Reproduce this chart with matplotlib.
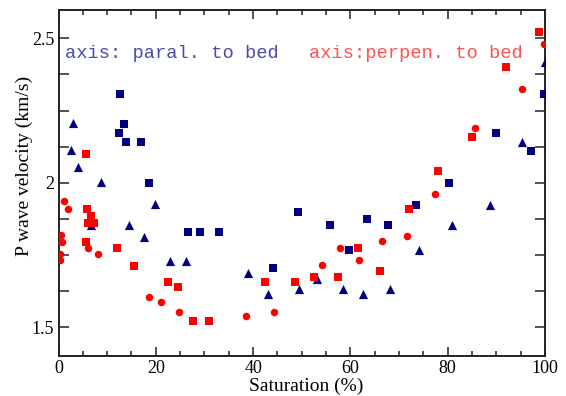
import matplotlib
matplotlib.use("Agg")
import matplotlib.pyplot as plt
from matplotlib.ticker import MultipleLocator

# Data (saturation %, P wave velocity km/s)
par_sq_x = [12.6, 13.4, 12.4, 13.9, 17.0, 18.7, 26.7, 29.1, 32.9, 44.1, 49.2, 55.9,
            59.8, 63.5, 67.8, 73.4, 80.3, 89.9, 97.2, 99.7]
par_sq_y = [2.306, 2.204, 2.172, 2.141, 2.141, 2.000, 1.830, 1.830, 1.830, 1.705, 1.898, 1.852,
            1.766, 1.875, 1.852, 1.923, 1.999, 2.172, 2.111, 2.306]

par_tri_x = [2.6, 2.9, 4.1, 6.7, 8.7, 14.5, 17.6, 19.8, 22.9, 26.3, 39.0, 43.1,
             49.4, 53.1, 58.5, 62.5, 68.1, 74.2, 80.9, 88.6, 95.3, 99.9]
par_tri_y = [2.114, 2.206, 2.056, 1.854, 2.001, 1.854, 1.811, 1.927, 1.728, 1.728, 1.687, 1.615,
             1.632, 1.668, 1.632, 1.615, 1.633, 1.768, 1.853, 1.924, 2.142, 2.417]

per_sq_x = [5.6, 5.8, 6.6, 6.0, 7.3, 5.65, 12.0, 15.5, 22.6, 24.6, 27.7, 30.9,
            42.4, 48.6, 52.6, 57.5, 61.5, 66.1, 72.0, 78.0, 84.9, 91.9, 98.8]
per_sq_y = [2.098, 1.910, 1.886, 1.862, 1.862, 1.796, 1.775, 1.713, 1.658, 1.638, 1.522, 1.522,
            1.656, 1.656, 1.675, 1.675, 1.773, 1.694, 1.909, 2.039, 2.159, 2.401, 2.522]

per_ci_x = [1.1, 2.0, 0.45, 0.65, 0.4, 0.25, 6.1, 8.1, 18.5, 21.1, 24.8, 38.6,
            44.3, 54.1, 57.8, 61.7, 66.4, 71.7, 77.4, 85.7, 95.3, 99.7]
per_ci_y = [1.936, 1.909, 1.818, 1.796, 1.754, 1.734, 1.773, 1.754, 1.603, 1.586, 1.553, 1.538,
            1.554, 1.714, 1.773, 1.733, 1.797, 1.817, 1.961, 2.190, 2.325, 2.480]

blue = "#000080"
red = "#ff0000"

plt.rcParams["font.family"] = ["Liberation Serif", "DejaVu Serif"]

fig = plt.figure(figsize=(5.66, 3.96), dpi=100)
ax = fig.add_axes([58.5 / 566, 1 - 356 / 396, 486.5 / 566, 346.5 / 396])

ax.scatter(par_sq_x, par_sq_y, marker="s", s=5.8**2, color=blue, linewidths=0, zorder=3)
ax.scatter(par_tri_x, par_tri_y, marker="^", s=6.6**2, color=blue, linewidths=0, zorder=3)
ax.scatter(per_sq_x, per_sq_y, marker="s", s=5.8**2, color=red, linewidths=0, zorder=3)
ax.scatter(per_ci_x, per_ci_y, marker="o", s=5.4**2, color=red, linewidths=0, zorder=3)

# labels in the plot area
ax.text(1.3, 2.448, "axis: paral. to bed", color="#4a4ab0", fontsize=13.5,
        family="Liberation Mono", va="center", ha="left")
ax.text(51.5, 2.448, "axis:perpen. to bed", color="#ff5050", fontsize=13.5,
        family="Liberation Mono", va="center", ha="left")

ax.set_xlim(0, 100)
ax.set_ylim(1.4, 2.6)
ax.xaxis.set_major_locator(MultipleLocator(20))
ax.xaxis.set_minor_locator(MultipleLocator(5))
ax.yaxis.set_minor_locator(MultipleLocator(0.125))
ax.set_yticks([1.5, 2, 2.5])
ax.set_yticklabels(["1.5", "2", "2.5"])

ax.tick_params(which="both", direction="in", top=True, right=True, width=1.1, colors="#222222",
               labelsize=13, labelcolor="black")
ax.tick_params(axis="x", which="major", length=6.5, pad=3)
ax.tick_params(axis="x", which="minor", length=3.6)
ax.tick_params(axis="y", which="both", length=7, pad=3)

for sp in ax.spines.values():
    sp.set_linewidth(1.4)
    sp.set_color("#222222")

ax.set_xlabel("Saturation (%)", fontsize=14, va="center")
ax.set_ylabel("P wave velocity (km/s)", fontsize=14, va="center")
ax.xaxis.set_label_coords(0.510, -0.089)
ax.yaxis.set_label_coords(-0.071, 0.548)

fig.savefig("out.png", dpi=100)
